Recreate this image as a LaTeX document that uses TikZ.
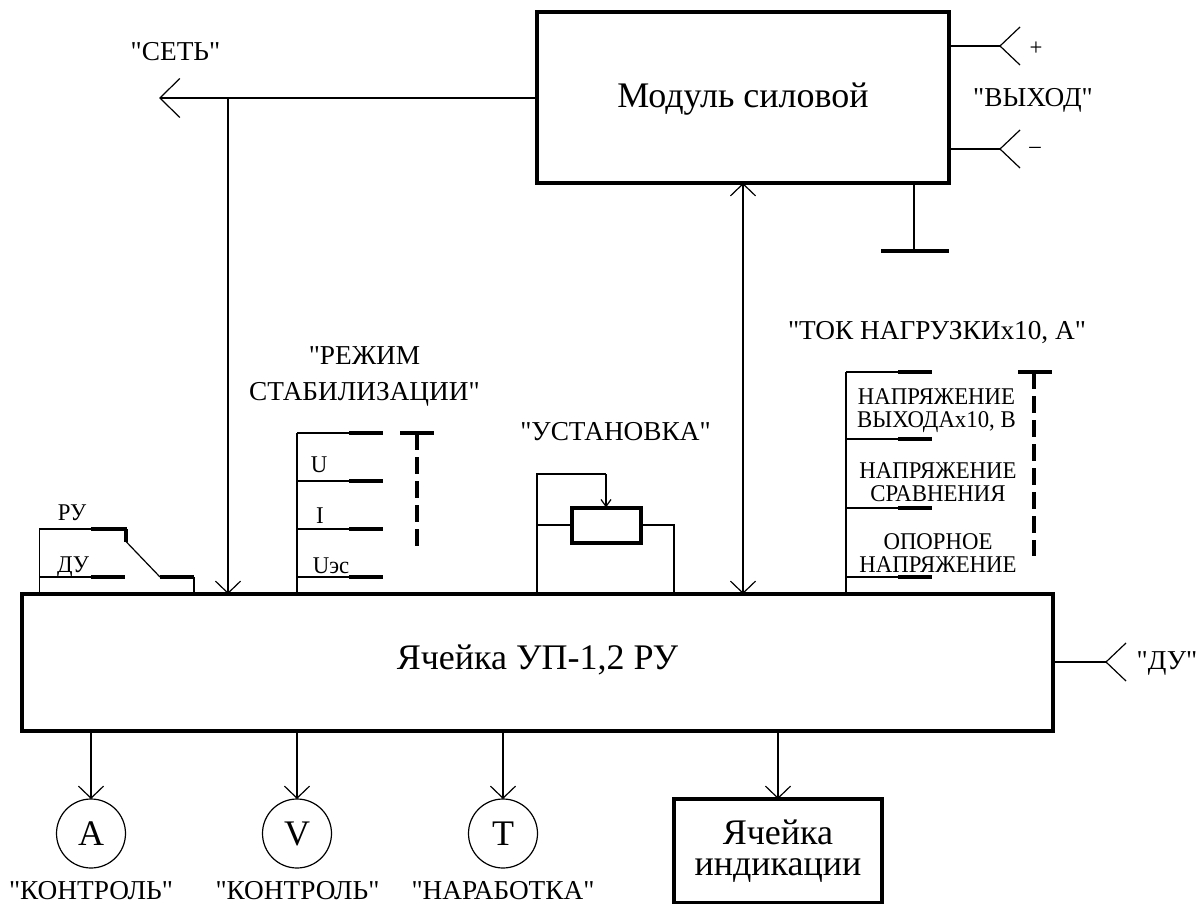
\documentclass[tikz,border=0pt]{standalone}
\usepackage{fontspec}
\setmainfont{Liberation Serif}[Ligatures=TeXOff]
\newfontfamily\narrowfont{Liberation Serif}[FakeStretch=0.95,Ligatures=TeXOff]
\usetikzlibrary{arrows.meta,positioning}
\newcommand{\bigfont}{\fontsize{36}{31}\selectfont}
\newcommand{\midfont}{\fontsize{27.3}{36}\selectfont}
\newcommand{\smallfont}{\narrowfont\fontsize{24}{23}\selectfont}

\begin{document}
\begin{tikzpicture}[
  x=1pt, y=-1pt,
  wire/.style={line width=1.2pt},
  bar/.style={line width=4pt},
  dashbar/.style={line width=4pt, dash pattern=on 16.5pt off 7.5pt},
  box/.style={draw, line width=4pt, outer sep=0pt, inner sep=0pt, align=center, font=\bigfont},
  meter/.style={draw, circle, line width=1.2pt, minimum size=69pt, inner sep=0pt, outer sep=0pt, font=\bigfont},
  lab/.style={inner sep=0pt, anchor=base, font=\midfont},
  small/.style={inner sep=0pt, anchor=base, font=\smallfont},
  block/.style={inner sep=0pt, align=center, font=\smallfont},
  arr/.style={wire, -{Straight Barb[length=12pt, width=25pt]}},
  tinyarr/.style={wire, -{Straight Barb[length=7pt, width=10pt]}},
  netarr/.style={wire, -{Straight Barb[length=20pt, width=39pt]}},
  dbl/.style={wire, {Straight Barb[length=12pt, width=25pt]}-{Straight Barb[length=12pt, width=25pt]}}
]
\useasboundingbox (0,0) rectangle (1197,904);
\fill[white] (0,0) rectangle (1197,904);

% main blocks
\node[box, minimum width=412pt, minimum height=171pt, text height=25pt, text depth=4pt] (module) at (743,97.5) {Модуль силовой};
\node[box, minimum width=1031pt, minimum height=137pt, text height=25pt, text depth=12pt] (cell) at (537.5,662.5) {Ячейка УП-1,2 РУ};
\node[box, minimum width=208pt, minimum height=104pt] (ind) at (778,851) {Ячейка\\индикации};

% output side
\coordinate (plus) at (1000,46);
\coordinate (minus) at (1000,149);
\coordinate (duin) at (1106,662);
\draw[wire] (plus -| module.east) -- (plus);
\draw[wire] (minus -| module.east) -- (minus);
\draw[wire] (duin -| cell.east) -- (duin);
\foreach \c in {plus,minus,duin}
  \draw[wire] (\c) ++(20,-19) -- (\c) -- ++(20,19);
\node[small] (plusl) at (1036,56) {+};
\node[small] (minusl) at (1035,154) {–};
\node[lab] (outl) at (1033,107) {"ВЫХОД"};
\node[lab] (dul) at (1167,669) {"ДУ"};

% ground
\coordinate (gnd) at (914,251);
\draw[wire] (module.south -| gnd) -- (gnd);
\draw[bar] (881,251) -- (949,251);

% mains
\coordinate (net) at (159,98);
\coordinate (netj) at (228,98);
\draw[netarr] (module.west |- net) -- (net);
\draw[arr] (netj) -- (netj |- cell.north);
\node[lab] (netl) at (175.5,61) {"СЕТЬ"};

% link module - cell
\coordinate (link) at (743,400);
\draw[dbl] (link |- module.south) -- (link |- cell.north);

% switch
\coordinate (sw) at (39.5,529);
\coordinate (swd) at (39.5,577);
\draw[wire] (91,529) -- (sw) -- (sw |- cell.north);
\draw[wire] (swd) -- (91,577);
\draw[bar] (91,529) -- (127,529);
\draw[bar] (125.5,529) -- (125.5,542);
\draw[bar] (91,577) -- (125,577);
\draw[wire] (125.5,541) -- (160,577);
\draw[bar] (160,577) -- (194,577);
\draw[wire] (194,577) -- (194,594);
\node[small] (rul) at (72,520) {РУ};
\node[small] (dusw) at (73,572) {ДУ};

% stabilisation mode
\coordinate (modetop) at (297,433);
\draw[wire] (modetop) -- (modetop |- cell.north);
\foreach \y in {433,481,529,577} {
  \draw[wire] (297,\y) -- (349,\y);
  \draw[bar] (349,\y) -- (383,\y);
}
\draw[bar] (400,433) -- (434,433);
\draw[dashbar] (417,433) -- (417,546);
\node[inner sep=0pt, align=center, font=\midfont] (model) at (364.5,376) {"РЕЖИМ\\СТАБИЛИЗАЦИИ"};
\node[small] (ul) at (319,472) {U};
\node[small] (il) at (320,523) {I};
\node[small] (uel) at (331,573) {Uэс};

% setting
\node[draw, line width=4pt, outer sep=0pt, minimum width=69pt, minimum height=35pt] (res) at (606,525) {};
\node[lab] (setl) at (615.5,440.5) {"УСТАНОВКА"};
\coordinate (settop) at (537,474);
\coordinate (setr) at (674,525);
\draw[wire] (res.west) -- (settop |- res.west);
\draw[wire] (settop |- cell.north) -- (settop) -- (settop -| res.north);
\draw[tinyarr] (settop -| res.north) -- (res.north);
\draw[wire] (res.east) -- (setr) -- (setr |- cell.north);

% load current
\coordinate (loadtop) at (846,372);
\draw[wire] (loadtop) -- (loadtop |- cell.north);
\foreach \y in {372,439,508,577} {
  \draw[wire] (846,\y) -- (898,\y);
  \draw[bar] (898,\y) -- (932,\y);
}
\draw[bar] (1018,372) -- (1052,372);
\draw[dashbar] (1034,372) -- (1034,556);
\node[lab] (loadl) at (937,339) {"ТОК НАГРУЗКИх10, А"};
\node[block] (volt) at (936.5,411) {НАПРЯЖЕНИЕ\\ВЫХОДАх10, В};
\node[block] (comp) at (938,482) {НАПРЯЖЕНИЕ\\СРАВНЕНИЯ};
\node[block] (refv) at (938,553) {ОПОРНОЕ\\НАПРЯЖЕНИЕ};

% meters
\coordinate (a) at (91,799);
\coordinate (v) at (297,799);
\coordinate (t) at (503,799);
\node[meter, below=0pt of a] (am) {A};
\node[meter, below=0pt of v] (vm) {V};
\node[meter, below=0pt of t] (tm) {T};
\draw[arr] (a |- cell.south) -- (am);
\draw[arr] (v |- cell.south) -- (vm);
\draw[arr] (t |- cell.south) -- (tm);
\draw[arr] (ind.north |- cell.south) -- (ind);
\node[lab] (al) at (91,899.5) {"КОНТРОЛЬ"};
\node[lab] (vl) at (297.5,899.5) {"КОНТРОЛЬ"};
\node[lab] (tl) at (503,899.5) {"НАРАБОТКА"};
\end{tikzpicture}
\end{document}
